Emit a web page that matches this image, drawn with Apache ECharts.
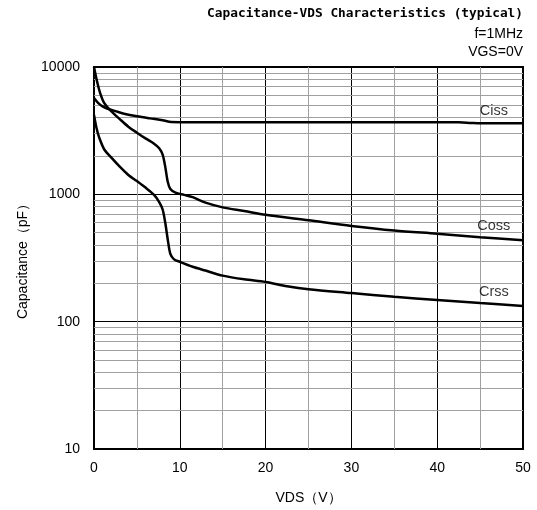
<!DOCTYPE html>
<html>
<head>
<meta charset="utf-8">
<script src="https://cdn.jsdelivr.net/npm/echarts@6/dist/echarts.min.js"></script>
<style>html,body{margin:0;padding:0;background:#fff;}#c{width:537px;height:510px;}</style>
</head>
<body>
<div id="c"></div>
<script>
// Data (VDS in V, capacitance in pF)
var cissData = [[0,5700],[0.5,5200],[1,4900],[1.6,4700],[2.5,4500],[3.5,4300],[5,4100],[6.5,3950],[8,3820],[9,3700],[10,3690],[20,3690],[30,3690],[40,3690],[42.5,3680],[44,3640],[45,3620],[50,3620]];
var cossData = [[0,10000],[0.3,8000],[0.7,6300],[1.2,5200],[2,4500],[3,3900],[4,3400],[5,3050],[6,2750],[7,2500],[7.6,2300],[8,2050],[8.3,1650],[8.6,1250],[8.9,1100],[9.5,1030],[10.5,990],[11.5,950],[13,860],[15,790],[17.5,740],[20,690],[25,625],[30,565],[35,520],[40,490],[45,460],[50,436]];
var crssData = [[0,4200],[0.3,3300],[0.6,2800],[1.2,2250],[2,1950],[3,1650],[4,1420],[5,1270],[6,1130],[7,990],[7.6,870],[8,760],[8.3,600],[8.6,440],[8.9,340],[9.3,310],[10,295],[11.5,270],[13,252],[15,230],[17.5,215],[20,205],[22.5,190],[25,180],[30,168],[35,157],[40,148],[45,140],[50,133]];
var seriesNames = ['Ciss','Coss','Crss'];
var labelX = [46.6, 46.6, 46.6];
var labelY = [4480, 561, 170];
var minorYLines = [20,30,40,50,60,70,80,90,200,300,400,500,600,700,800,900,2000,3000,4000,5000,6000,7000,8000,9000];
var titleText = 'Capacitance-VDS Characteristics (typical)';
var cond1 = 'f=1MHz';
var cond2 = 'VGS=0V';

var chart = echarts.init(document.getElementById('c'));
var font = "'Liberation Sans', Arial, sans-serif";
var lineSeries = [cissData, cossData, crssData].map(function (d, i) {
  return {
    name: seriesNames[i], type: 'line', data: d, showSymbol: false, symbol: 'none',
    smooth: 0.3,
    lineStyle: {color: '#000', width: 2.5}, z: 5, silent: true
  };
});
var option = {
  animation: false,
  backgroundColor: '#fff',
  title: [
    {text: titleText, right: 14, top: 7, padding: 0, textStyle: {fontFamily: "'DejaVu Sans Mono', monospace", fontWeight: 'bold', fontSize: 12.8, color: '#000'}},
    {text: cond1, right: 14, top: 27, padding: 0, textStyle: {fontFamily: font, fontWeight: 'normal', fontSize: 14, color: '#000'}},
    {text: cond2, right: 14, top: 45, padding: 0, textStyle: {fontFamily: font, fontWeight: 'normal', fontSize: 14, color: '#000'}}
  ],
  grid: {left: 94, right: 14, top: 67, bottom: 61, show: true, borderColor: '#000', borderWidth: 2, backgroundColor: 'transparent'},
  xAxis: {
    type: 'value', min: 0, max: 50, interval: 10,
    name: 'VDS（V）', nameLocation: 'middle', nameGap: 42,
    nameTextStyle: {fontFamily: font, fontSize: 14, color: '#000'},
    axisLine: {show: false}, axisTick: {show: false},
    axisLabel: {fontFamily: font, fontSize: 14, color: '#000', margin: 12},
    splitLine: {show: true, lineStyle: {color: '#000', width: 1}},
    minorTick: {show: false, splitNumber: 2},
    minorSplitLine: {show: true, lineStyle: {color: '#a0a0a0', width: 1}}
  },
  yAxis: {
    type: 'log', logBase: 10, min: 10, max: 10000,
    name: 'Capacitance（pF）', nameLocation: 'middle', nameGap: 64,
    nameTextStyle: {fontFamily: font, fontSize: 14, color: '#000'},
    axisLine: {show: false}, axisTick: {show: false},
    axisLabel: {fontFamily: font, fontSize: 14, color: '#000', margin: 14, formatter: function (v) { return String(Math.round(v)); }},
    splitLine: {show: true, lineStyle: {color: '#000', width: 1}}
  },
  series: [
    {
      type: 'line', data: [], silent: true, z: 1,
      markLine: {
        silent: true, symbol: ['none','none'], animation: false,
        label: {show: false},
        lineStyle: {color: '#a0a0a0', width: 1, type: 'solid'},
        data: minorYLines.map(function (v) { return {yAxis: v}; })
      }
    },
    {
      type: 'scatter', symbolSize: 0, silent: true, z: 6,
      data: seriesNames.map(function (n, i) { return {value: [labelX[i], labelY[i]], name: n}; }),
      label: {show: true, position: 'inside', formatter: '{b}', fontFamily: font, fontSize: 14.5, color: '#000'}
    }
  ].concat(lineSeries)
};
chart.setOption(option);
</script>
</body>
</html>
